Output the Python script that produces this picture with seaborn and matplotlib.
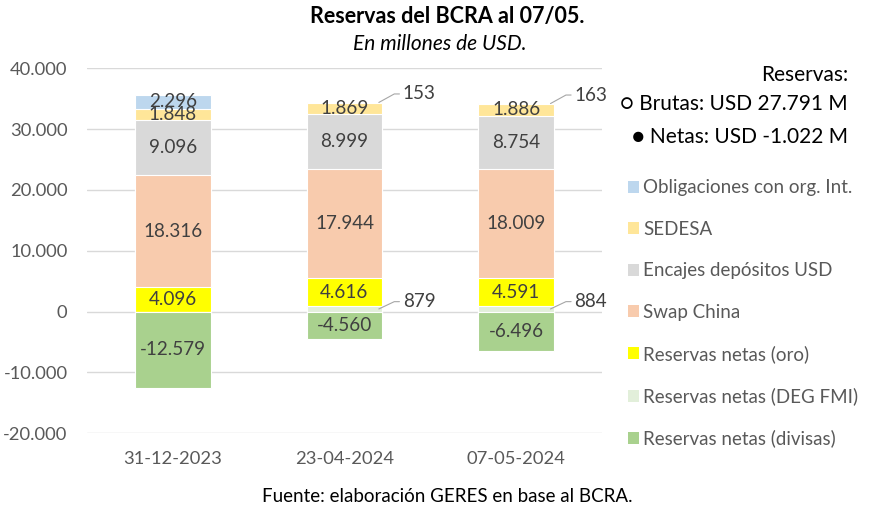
import matplotlib
matplotlib.use("Agg")
import matplotlib.pyplot as plt
import seaborn as sns
import numpy as np
import pandas as pd
from matplotlib.patches import Patch

sns.set_theme(style="white")
plt.rcParams['font.family'] = ['Lato', 'DejaVu Sans']

# ---- data ----
categories = ["31-12-2023", "23-04-2024", "07-05-2024"]
series_names = ["Reservas netas (divisas)", "Reservas netas (DEG FMI)", "Reservas netas (oro)",
                "Swap China", "Encajes depósitos USD", "SEDESA", "Obligaciones con org. Int."]
divisas = [-12579, -4560, -6496]
deg_fmi = [0, 879, 884]
oro = [4096, 4616, 4591]
swap_china = [18316, 17944, 18009]
encajes = [9096, 8999, 8754]
sedesa = [1848, 1869, 1886]
obligaciones = [2296, 153, 163]
colors = ["#A9D18E", "#E2EFDA", "#FFFF00", "#F8CBAD", "#D9D9D9", "#FFE699", "#BDD7EE"]
yticks = [-20000, -10000, 0, 10000, 20000, 30000, 40000]

positive = [deg_fmi, oro, swap_china, encajes, sedesa, obligaciones]
pos_names = series_names[1:]
pos_colors = colors[1:]

fig = plt.figure(figsize=(8.74, 5.12), dpi=100)
ax = fig.add_axes([87/874, 1-433.3/512, (602-87)/874, (433.3-68.3)/512])

# cumulative tops for overlay stacking
cum = np.cumsum(np.array(positive), axis=0)
bottoms = np.vstack([np.zeros(3), cum[:-1]])
txtc = "#404040"
for i in range(len(positive) - 1, -1, -1):
    df = pd.DataFrame({"cat": categories, "val": cum[i]})
    sns.barplot(data=df, x="cat", y="val", color=pos_colors[i], width=0.44,
                edgecolor="white", linewidth=0.8, saturation=1, ax=ax, zorder=2)
df = pd.DataFrame({"cat": categories, "val": divisas})
sns.barplot(data=df, x="cat", y="val", color=colors[0], width=0.44,
            edgecolor="white", linewidth=0.8, saturation=1, ax=ax, zorder=2)

fs = 13.6
# labels inside
for j in range(3):
    ax.text(j, divisas[j] / 2, f"{divisas[j]:,}".replace(",", "."), ha="center", va="center",
            fontsize=fs, color=txtc, zorder=5)
    for i, vals in enumerate(positive):
        v = vals[j]
        if v == 0:
            continue
        mid = bottoms[i][j] + v / 2
        lab = f"{v:,}".replace(",", ".")
        if v < 1000:
            # outside label with leader line
            xr = j + 0.22
            if i == 0:
                ly = mid + 1200
            else:
                ly = mid + 1400
            ax.plot([xr - 0.02, xr + 0.07, xr + 0.1], [mid, ly, ly], color="#A6A6A6", lw=0.8,
                    zorder=5, clip_on=False)
            ax.text(xr + 0.12, ly, lab, ha="left", va="center", fontsize=fs, color=txtc, zorder=5)
        else:
            ax.text(j, mid, lab, ha="center", va="center", fontsize=fs, color=txtc, zorder=5)

ax.set_ylim(-20000, 40000)
ax.set_xlim(-0.5, 2.5)
ax.set_yticks(yticks)
ax.set_yticklabels([f"{t:,}".replace(",", ".") for t in yticks])
ax.yaxis.grid(True, color="#D9D9D9", lw=1)
ax.set_axisbelow(True)
for s in ax.spines.values():
    s.set_visible(False)
ax.set_xlabel("")
ax.set_ylabel("")
ax.tick_params(axis="both", length=0, labelsize=13.2, colors="#595959")
ax.tick_params(axis="y", pad=14)
ax.tick_params(axis="x", pad=13)

# legend
handles = [Patch(facecolor=pos_colors[i], edgecolor="none") for i in range(len(pos_colors) - 1, -1, -1)]
labels = [pos_names[i] for i in range(len(pos_names) - 1, -1, -1)]
handles.append(Patch(facecolor=colors[0], edgecolor="none"))
labels.append(series_names[0])
leg = fig.legend(handles, labels, loc="upper left", bbox_to_anchor=(620/874, 1-172/512),
                 frameon=False, fontsize=13.5, handlelength=0.6, handleheight=0.6,
                 handletextpad=0.25, labelspacing=1.3, borderaxespad=0)
for t in leg.get_texts():
    t.set_color("#595959")

fig.text(848/874, 1-75/512, "Reservas:", ha="right", va="center", fontsize=15, color="black")
fig.text(848/874, 1-104/512, "○ Brutas: USD 27.791 M", ha="right", va="center", fontsize=15,
         color="black")
fig.text(848/874, 1-137/512, "● Netas: USD -1.022 M", ha="right", va="center", fontsize=15, color="black")

fig.text(447/874, 1-17/512, "Reservas del BCRA al 07/05.", ha="center", va="center", fontsize=15.5,
         fontweight="bold", color="black")
fig.text(440/874, 1-44/512, "En millones de USD.", ha="center", va="center", fontsize=15,
         style="italic", color="black")
fig.text(447/874, 1-497/512, "Fuente: elaboración GERES en base al BCRA.", ha="center", va="center",
         fontsize=13.5, color="black")

fig.savefig("out.png", dpi=100)
